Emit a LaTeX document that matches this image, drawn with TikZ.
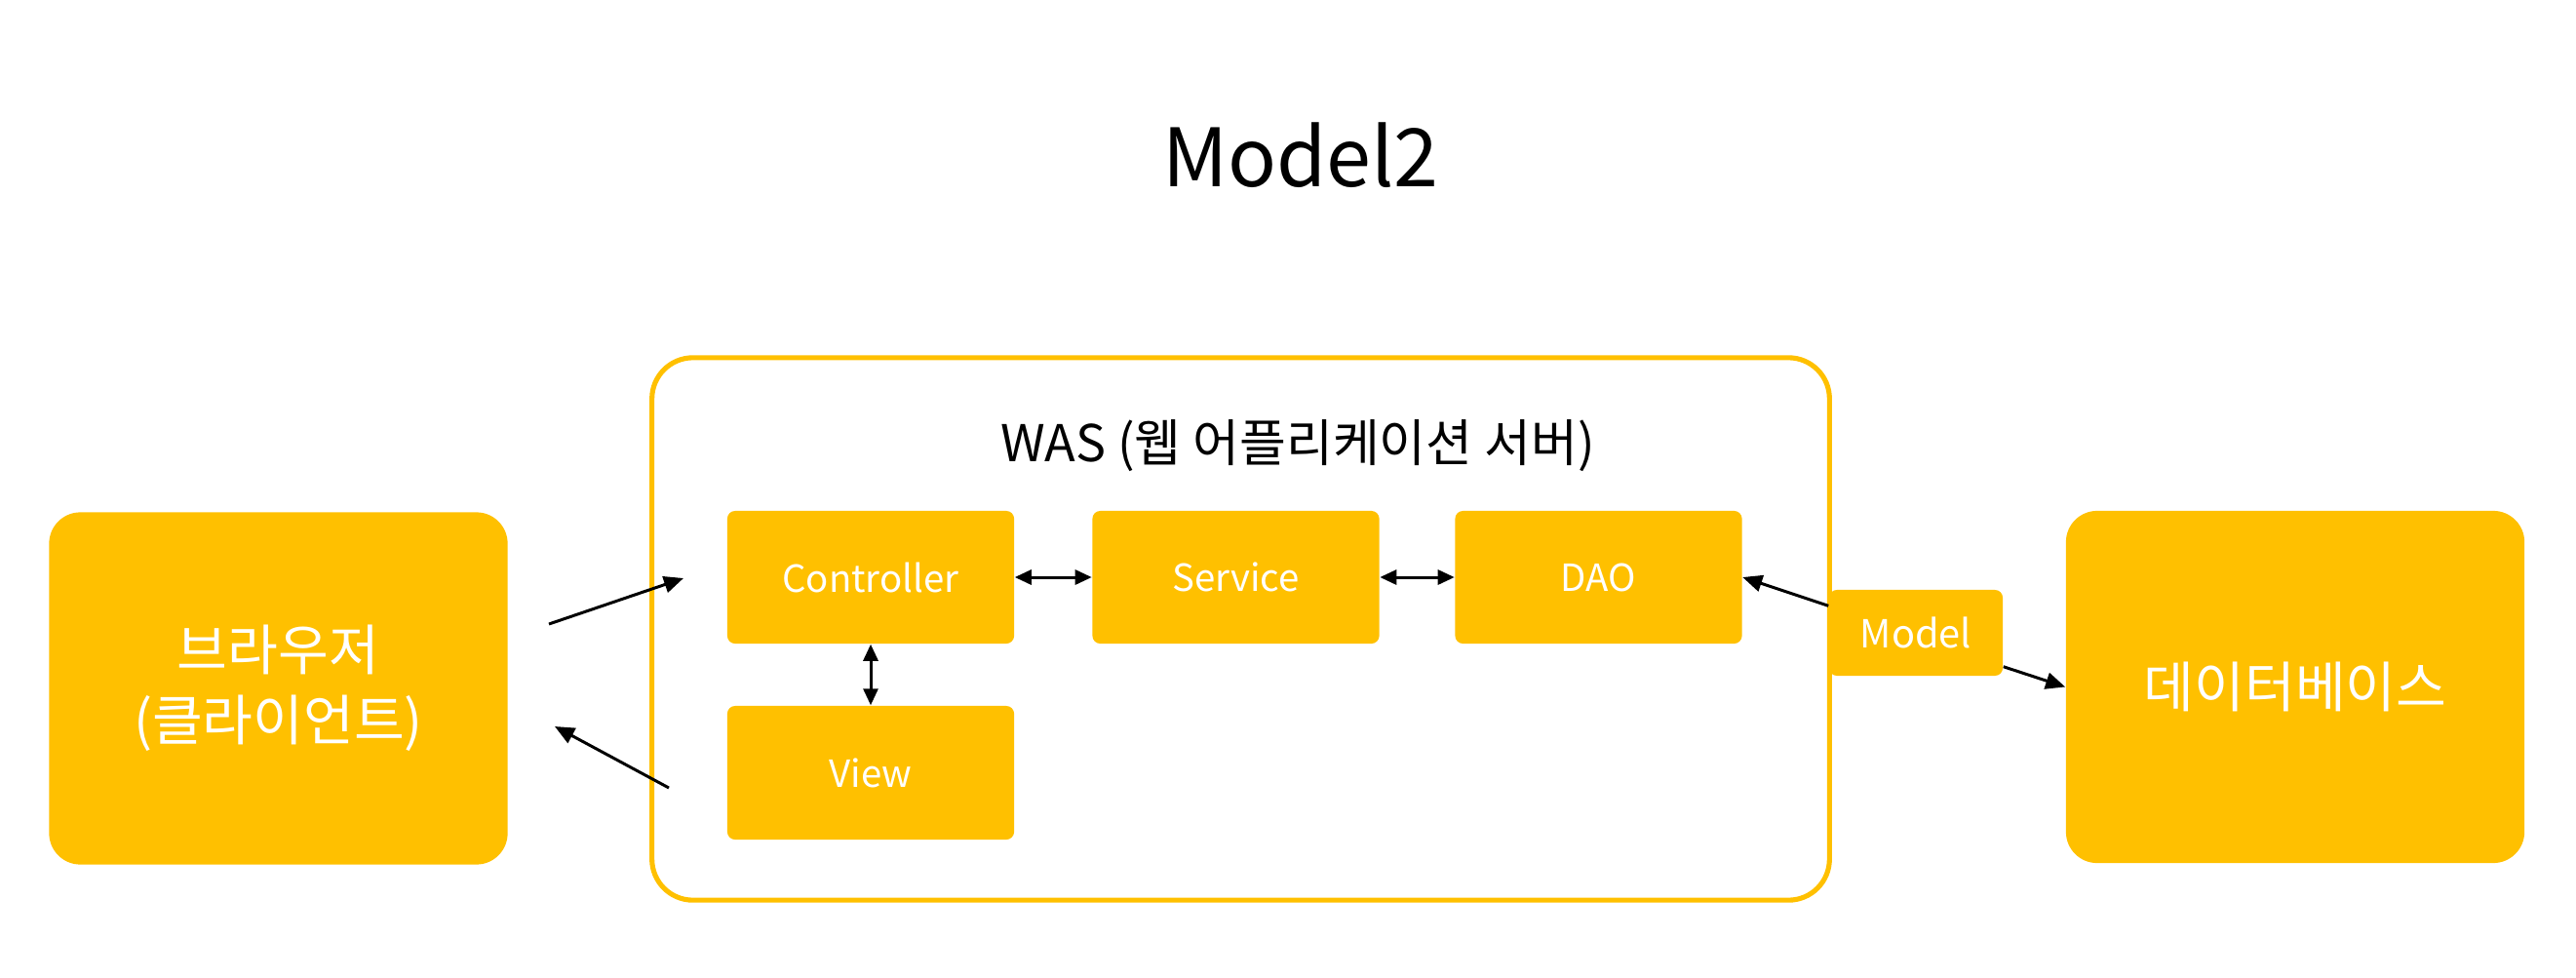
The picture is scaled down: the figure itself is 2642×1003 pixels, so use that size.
\documentclass[tikz,border=0pt]{standalone}
\usepackage{fontspec}
\setmainfont{Noto Sans CJK KR}
\usetikzlibrary{arrows.meta,calc}
\definecolor{gold}{HTML}{FFC000}
\begin{document}
\begin{tikzpicture}[x=0.01cm,y=-0.01cm,
  ybox/.style={fill=gold,draw=none,text=white,align=center,inner sep=0pt},
  small/.style={ybox,rounded corners=0.08cm,minimum width=2.94cm,minimum height=1.36cm,font=\fontsize{10.9}{13}\selectfont},
  big/.style={ybox,rounded corners=0.32cm,minimum width=4.7cm,minimum height=3.61cm,font=\fontsize{16}{20.5}\selectfont},
  arr/.style={draw=black,line width=0.85pt,-{Triangle[length=0.2cm,width=0.17cm]}},
  darr/.style={draw=black,line width=0.85pt,{Triangle[length=0.17cm,width=0.15cm]}-{Triangle[length=0.17cm,width=0.15cm]}}]
\useasboundingbox (0,0) rectangle (2642,1003);
\node[font=\fontsize{23.5}{28}\selectfont] (title) at (1334,159) {Model2};
\node[draw=gold,line width=1.45pt,rounded corners=0.42cm,minimum width=12.07cm,minimum height=5.56cm,inner sep=0pt] (was) at (1272.5,645) {};
\node[font=\fontsize{14.8}{17}\selectfont] (wastitle) at (1331,457) {WAS (웹 어플리케이션 서버)};
\node[big] (browser) at (285.5,706) {브라우저\\(클라이언트)};
\node[big] (db) at (2354,704.5) {데이터베이스};
\node[small] (ctrl) at (893,592) {Controller};
\node[small] (svc) at (1267.5,592) {Service};
\node[small] (dao) at (1639.5,592) {DAO};
\node[small,minimum height=1.37cm] (view) at (893,792.5) {View};
\node[ybox,rounded corners=0.08cm,minimum width=1.78cm,minimum height=0.88cm,font=\fontsize{11.3}{13}\selectfont] (model) at (1965,649) {Model};
\coordinate (b1s) at (563,640);
\coordinate (b1e) at (701,593);
\coordinate (b2s) at (686,808);
\coordinate (b2e) at (569,745);
\draw[arr] (b1s) -- (b1e);
\draw[arr] (b2s) -- (b2e);
\draw[darr] (ctrl.east) -- (svc.west);
\draw[darr] (svc.east) -- (dao.west);
\draw[darr] (ctrl.south) -- (view.north);
\draw[arr] ($(model.north west)+(0,17)$) -- (dao.east);
\draw[arr] ($(model.south east)+(0,-10)$) -- (db.west);
\end{tikzpicture}
\end{document}
